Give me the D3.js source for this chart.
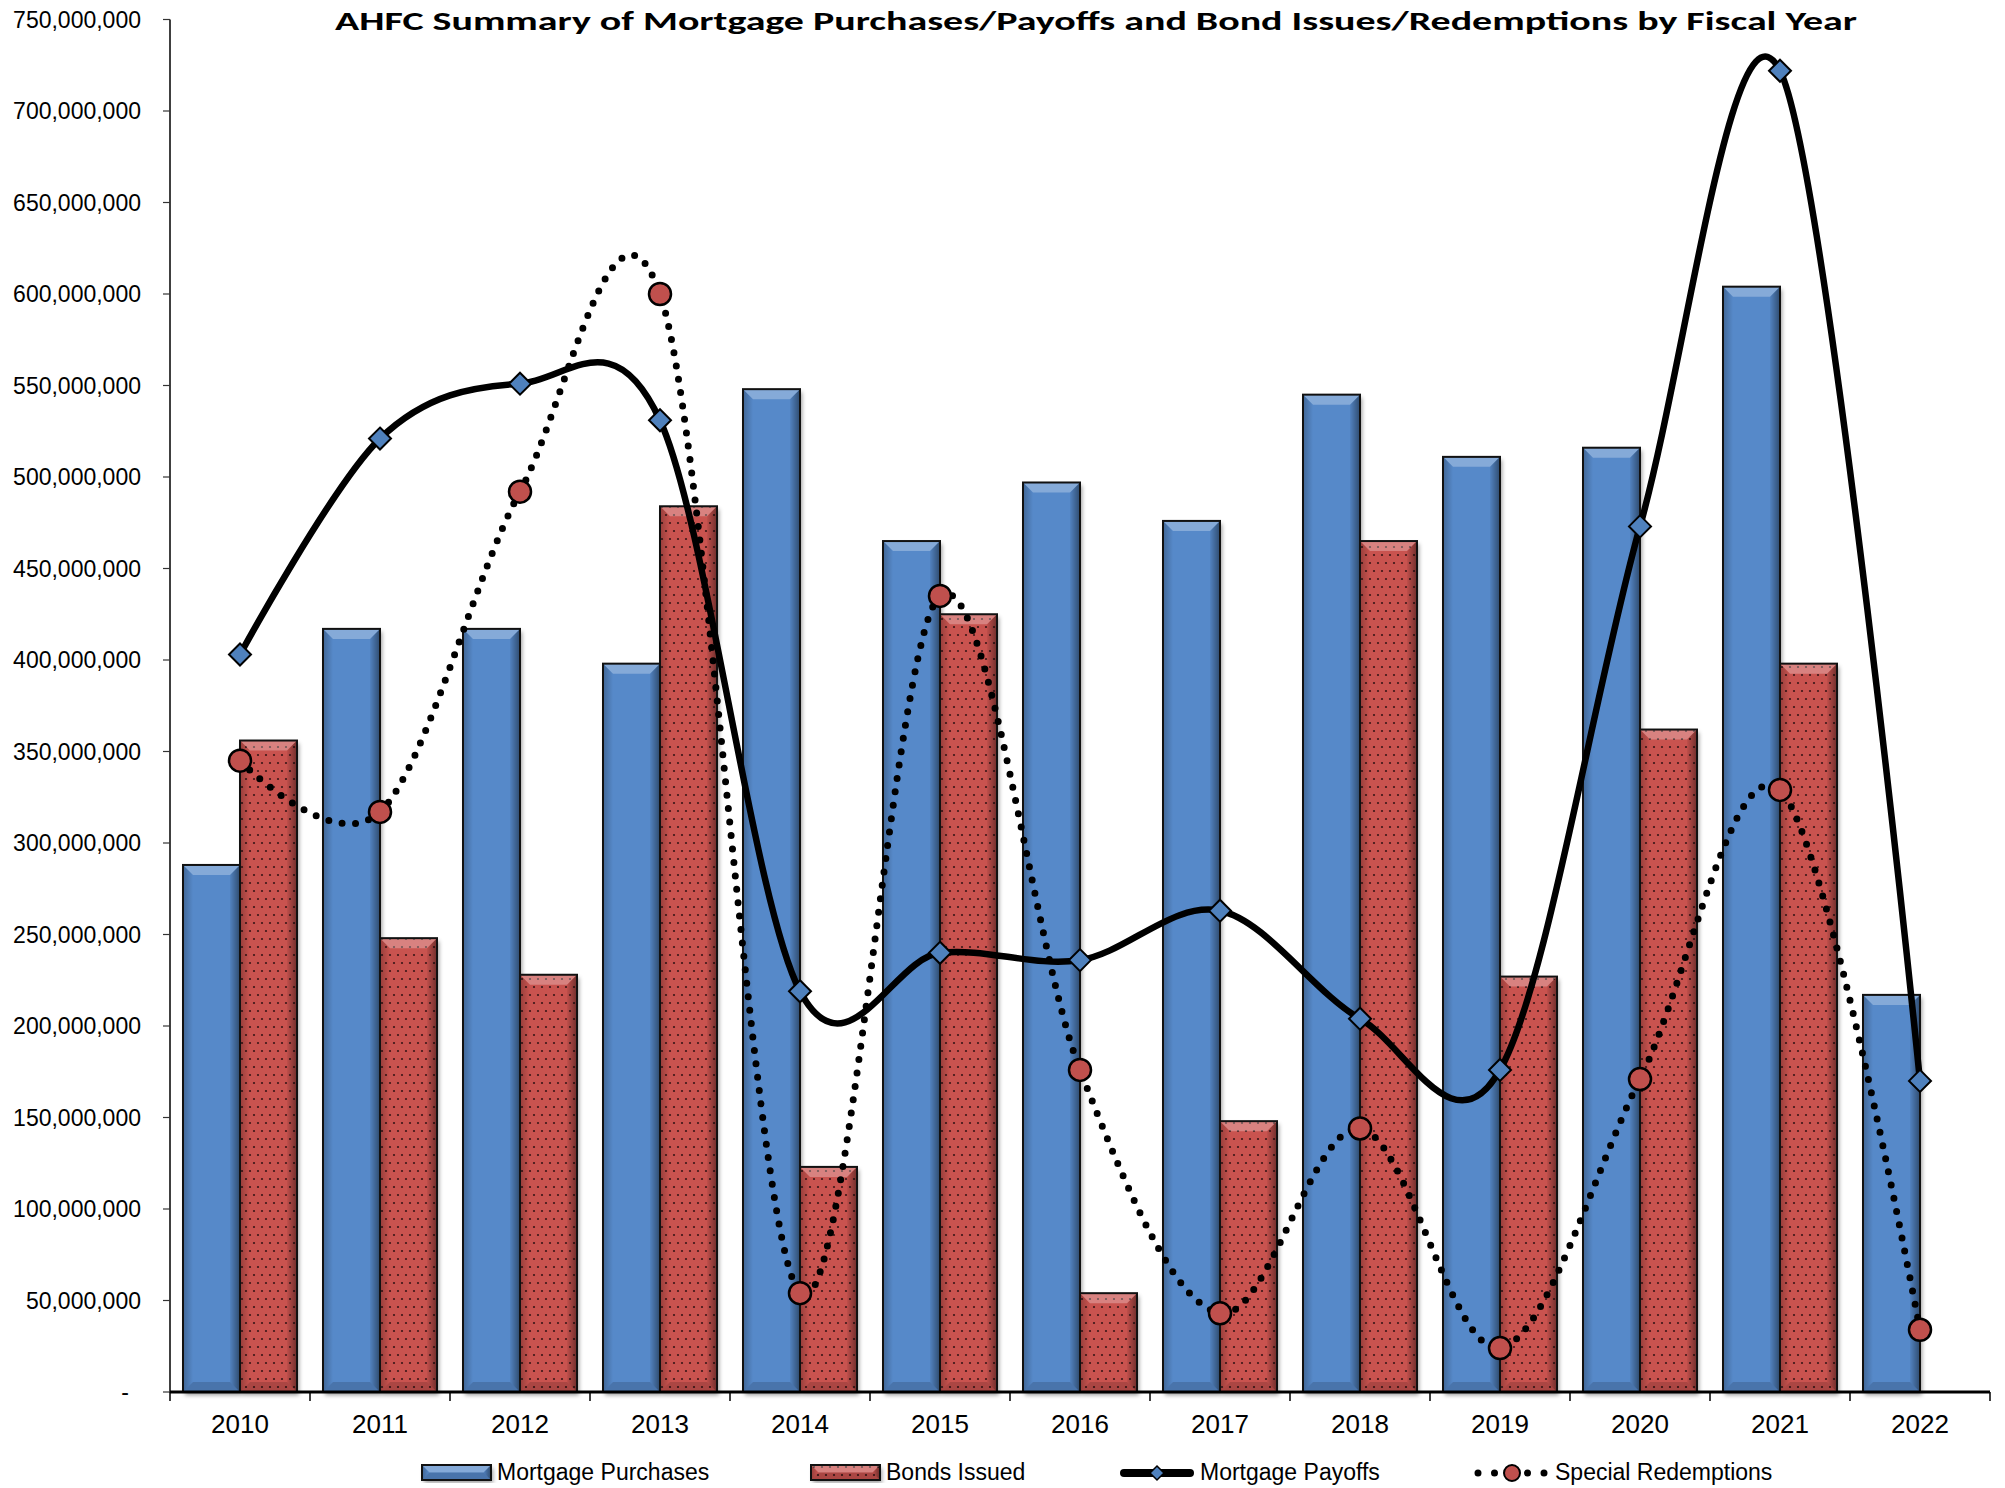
<!DOCTYPE html>
<html>
<head>
<meta charset="utf-8">
<script src="https://cdn.jsdelivr.net/npm/d3@7"></script>
<style>
  html, body { margin: 0; padding: 0; background: #fff; }
  svg { display: block; }
</style>
</head>
<body>
<svg id="chart" width="2005" height="1488"></svg>
<script>
// ---------------- DATA ----------------
const years = ["2010","2011","2012","2013","2014","2015","2016","2017","2018","2019","2020","2021","2022"];
const mortgagePurchases = [288e6, 417e6, 417e6, 398e6, 548e6, 465e6, 497e6, 476e6, 545e6, 511e6, 516e6, 604e6, 217e6];
const bondsIssued       = [356e6, 248e6, 228e6, 484e6, 123e6, 425e6, 54e6, 148e6, 465e6, 227e6, 362e6, 398e6, null];
const mortgagePayoffs   = [403e6, 521e6, 551e6, 531e6, 219e6, 240e6, 236e6, 263e6, 204e6, 176e6, 473e6, 722e6, 170e6];
const specialRedemptions= [345e6, 317e6, 492e6, 600e6, 54e6, 435e6, 176e6, 43e6, 144e6, 24e6, 171e6, 329e6, 34e6];
const yTicks = [0,50e6,100e6,150e6,200e6,250e6,300e6,350e6,400e6,450e6,500e6,550e6,600e6,650e6,700e6,750e6];
const barSeries = ["Mortgage Purchases","Bonds Issued"];
const titleText = "AHFC Summary of Mortgage Purchases/Payoffs and Bond Issues/Redemptions by Fiscal Year";

// ---------------- LAYOUT ----------------
const svg = d3.select("#chart");
const pLeft = 170, pRight = 1990, pTop = 19.5, pBottom = 1392;
const font = "'Liberation Sans', Arial, sans-serif";

const x0 = d3.scaleBand().domain(years).range([pLeft, pRight]).paddingInner(26/140).paddingOuter(13/140);
const x1 = d3.scaleBand().domain(barSeries).range([0, x0.bandwidth()]);
const y = d3.scaleLinear().domain([0, 750e6]).range([pBottom, pTop]);

const defs = svg.append("defs");
// dotted pattern for bonds
const pat = defs.append("pattern").attr("id","dots").attr("patternUnits","userSpaceOnUse")
  .attr("width",8).attr("height",16);
pat.append("rect").attr("width",8).attr("height",16).attr("fill","#c9524f");
pat.append("circle").attr("cx",2).attr("cy",3).attr("r",1.1).attr("fill","#3a1414");
pat.append("circle").attr("cx",6).attr("cy",11).attr("r",1.1).attr("fill","#3a1414");

const gl = defs.append("linearGradient").attr("id","gLeft").attr("x1",0).attr("x2",1).attr("y1",0).attr("y2",0);
gl.append("stop").attr("offset",0).attr("stop-color","#000").attr("stop-opacity",0.25);
gl.append("stop").attr("offset",1).attr("stop-color","#000").attr("stop-opacity",0.0);
const gr = defs.append("linearGradient").attr("id","gRight").attr("x1",0).attr("x2",1).attr("y1",0).attr("y2",0);
gr.append("stop").attr("offset",0).attr("stop-color","#000").attr("stop-opacity",0.05);
gr.append("stop").attr("offset",1).attr("stop-color","#000").attr("stop-opacity",0.45);

const flt = defs.append("filter").attr("id","shadow").attr("x","-20%").attr("y","-20%").attr("width","140%").attr("height","140%");
flt.append("feDropShadow").attr("dx",2).attr("dy",3).attr("stdDeviation",2).attr("flood-color","#000").attr("flood-opacity",0.4);

// ---------------- TITLE ----------------
svg.append("text").attr("x", 1096).attr("y", 30).attr("text-anchor","middle")
  .attr("font-family","Carlito, 'Open Sans', sans-serif").attr("font-weight","bold").attr("font-size",27)
  .attr("textLength",1522).attr("lengthAdjust","spacingAndGlyphs")
  .text(titleText);

// ---------------- Y AXIS ----------------
const yg = svg.append("g");
yg.append("line").attr("x1",pLeft).attr("x2",pLeft).attr("y1",pTop).attr("y2",pBottom).attr("stroke","#000").attr("stroke-width",1.5);
yTicks.forEach(t => {
  yg.append("line").attr("x1",pLeft-7).attr("x2",pLeft).attr("y1",y(t)).attr("y2",y(t)).attr("stroke","#333").attr("stroke-width",1.2);
  yg.append("text").attr("x", t === 0 ? 129 : 141).attr("y", y(t)).attr("dy","0.36em")
    .attr("text-anchor","end").attr("font-family",font).attr("font-size",23).attr("fill","#000")
    .text(t === 0 ? "-" : d3.format(",")(t));
});

// ---------------- BARS ----------------
function drawBar(g, x, yTop, w, h, fill) {
  const b = Math.min(10, h/2, w/2);
  g.append("rect").attr("x",x).attr("y",yTop).attr("width",w).attr("height",h).attr("fill",fill).attr("filter","url(#shadow)");
  const pts = a => a.map(p => p.join(",")).join(" ");
  g.append("polygon").attr("points", pts([[x,yTop],[x+w,yTop],[x+w-b,yTop+b],[x+b,yTop+b]])).attr("fill","#fff").attr("fill-opacity",0.28);
  g.append("polygon").attr("points", pts([[x,yTop+h],[x+w,yTop+h],[x+w-b,yTop+h-b],[x+b,yTop+h-b]])).attr("fill","#000").attr("fill-opacity",0.15);
  g.append("polygon").attr("points", pts([[x,yTop],[x+b,yTop+b],[x+b,yTop+h-b],[x,yTop+h]])).attr("fill","url(#gLeft)");
  g.append("polygon").attr("points", pts([[x+w,yTop],[x+w-b,yTop+b],[x+w-b,yTop+h-b],[x+w,yTop+h]])).attr("fill","url(#gRight)");
  g.append("rect").attr("x",x).attr("y",yTop).attr("width",w).attr("height",h).attr("fill","none").attr("stroke","#111").attr("stroke-width",2);
}
const barsG = svg.append("g");
years.forEach((yr, i) => {
  const vals = [mortgagePurchases[i], bondsIssued[i]];
  vals.forEach((v, j) => {
    if (v == null) return;
    const bx = x0(yr) + x1(barSeries[j]);
    drawBar(barsG, bx, y(v), x1.bandwidth(), y(0) - y(v), j === 0 ? "#5689c9" : "url(#dots)");
  });
});

// ---------------- X AXIS ----------------
const xg = svg.append("g");
xg.append("line").attr("x1",pLeft).attr("x2",pRight).attr("y1",pBottom).attr("y2",pBottom).attr("stroke","#000").attr("stroke-width",3);
const step = x0.step();
d3.range(years.length + 1).forEach(i => {
  const bx = pLeft + i * step;
  xg.append("line").attr("x1",bx).attr("x2",bx).attr("y1",pBottom).attr("y2",pBottom+9).attr("stroke","#000").attr("stroke-width",1.5);
});
years.forEach(yr => {
  xg.append("text").attr("x", x0(yr) + x0.bandwidth()/2).attr("y", 1433).attr("text-anchor","middle")
    .attr("font-family",font).attr("font-size",26).attr("fill","#000").text(yr);
});

// ---------------- LINES ----------------
const cx = yr => x0(yr) + x0.bandwidth()/2;
const line = d3.line().x(d => cx(d.year)).y(d => y(d.v)).curve(d3.curveCardinal.tension(0));
const payData = years.map((yr,i) => ({year: yr, v: mortgagePayoffs[i]}));
const redData = years.map((yr,i) => ({year: yr, v: specialRedemptions[i]}));

svg.append("path").datum(payData).attr("d", line).attr("fill","none").attr("stroke","#000").attr("stroke-width",6.5).attr("stroke-linejoin","round");
const diamond = r => `M0,${-r}L${r},0L0,${r}L${-r},0Z`;
svg.append("g").selectAll("path").data(payData).join("path")
  .attr("transform", d => `translate(${cx(d.year)},${y(d.v)})`).attr("d", diamond(11))
  .attr("fill","#4f81bd").attr("stroke","#000").attr("stroke-width",2);

svg.append("path").datum(redData).attr("d", line).attr("fill","none").attr("stroke","#000").attr("stroke-width",7)
  .attr("stroke-linecap","round").attr("stroke-dasharray","0 13.5");
svg.append("g").selectAll("circle").data(redData).join("circle")
  .attr("cx", d => cx(d.year)).attr("cy", d => y(d.v)).attr("r", 11)
  .attr("fill","#c0504d").attr("stroke","#000").attr("stroke-width",2.5);

// ---------------- LEGEND ----------------
const lg = svg.append("g");
const ly = 1473;
drawBar(lg, 422, 1465, 69, 15, "#5689c9");
lg.append("text").attr("x",497).attr("y",1480).attr("font-family",font).attr("font-size",23).text(barSeries[0]);
drawBar(lg, 811, 1465, 69, 15, "url(#dots)");
lg.append("text").attr("x",886).attr("y",1480).attr("font-family",font).attr("font-size",23).text(barSeries[1]);
lg.append("line").attr("x1",1124).attr("x2",1190).attr("y1",ly).attr("y2",ly).attr("stroke","#000").attr("stroke-width",8).attr("stroke-linecap","round");
lg.append("path").attr("transform",`translate(1157,${ly})`).attr("d", diamond(7)).attr("fill","#4f81bd").attr("stroke","#000").attr("stroke-width",1.5);
lg.append("text").attr("x",1200).attr("y",1480).attr("font-family",font).attr("font-size",23).text("Mortgage Payoffs");
lg.append("line").attr("x1",1478).attr("x2",1545).attr("y1",ly).attr("y2",ly).attr("stroke","#000").attr("stroke-width",7)
  .attr("stroke-linecap","round").attr("stroke-dasharray","0 16.5");
lg.append("circle").attr("cx",1512).attr("cy",ly).attr("r",8).attr("fill","#c0504d").attr("stroke","#000").attr("stroke-width",2);
lg.append("text").attr("x",1555).attr("y",1480).attr("font-family",font).attr("font-size",23).text("Special Redemptions");
</script>
</body>
</html>
